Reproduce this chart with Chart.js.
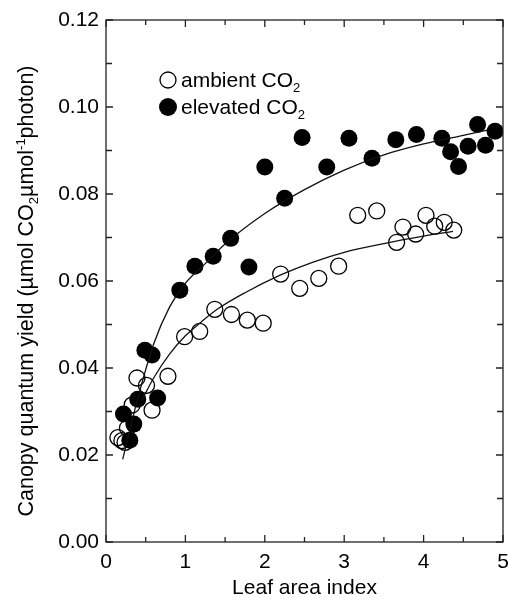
<!DOCTYPE html>
<html>
<head>
<meta charset="utf-8">
<script src="https://cdn.jsdelivr.net/npm/chart.js@4"></script>
<style>
  html, body { margin: 0; padding: 0; background: #fff; }
  #wrap { width: 508px; height: 601px; }
</style>
</head>
<body>
<div id="wrap"><canvas id="chartCanvas" width="508" height="601"></canvas></div>
<script>
// Leaf area index (x) and canopy quantum yield (y)
const ambientLai = [0.15, 0.20, 0.24, 0.27, 0.33, 0.39, 0.51, 0.58, 0.78, 0.99, 1.18, 1.37, 1.58, 1.78, 1.98,
                    2.20, 2.44, 2.68, 2.93, 3.17, 3.41, 3.66, 3.74, 3.90, 4.03, 4.14, 4.26, 4.38];
const ambientYield = [0.0240, 0.0233, 0.0229, 0.0262, 0.0315, 0.0377, 0.0360, 0.0303, 0.0381, 0.0472, 0.0484, 0.0535, 0.0523, 0.0510, 0.0503,
                      0.0616, 0.0583, 0.0606, 0.0634, 0.0751, 0.0761, 0.0689, 0.0724, 0.0708, 0.0751, 0.0726, 0.0735, 0.0717];

const elevatedLai = [0.22, 0.35, 0.30, 0.40, 0.65, 0.49, 0.58, 0.93, 1.12, 1.35, 1.57, 1.80, 2.00, 2.25,
                     2.47, 2.78, 3.06, 3.35, 3.65, 3.91, 4.23, 4.34, 4.44, 4.56, 4.68, 4.78, 4.90];
const elevatedYield = [0.0294, 0.0271, 0.0234, 0.0328, 0.0331, 0.0441, 0.0430, 0.0579, 0.0634, 0.0657, 0.0698, 0.0632, 0.0862, 0.0790,
                       0.0930, 0.0862, 0.0928, 0.0882, 0.0925, 0.0937, 0.0928, 0.0897, 0.0863, 0.0910, 0.0960, 0.0912, 0.0944];

// fitted curves, traced by eye
const ambientFitLai = [0.45, 0.6, 0.8, 1.0, 1.2, 1.4, 1.75, 2.2, 2.6, 3.0, 3.5, 4.0, 4.37];
const ambientFitYield = [0.0325, 0.0377, 0.0432, 0.0474, 0.0506, 0.0535, 0.0573, 0.0614, 0.0643, 0.0666, 0.0686, 0.0703, 0.0714];
const elevatedFitLai = [0.21, 0.4, 0.6, 0.8, 1.0, 1.25, 1.5, 2.0, 2.5, 3.0, 3.5, 4.0, 4.5, 4.8];
const elevatedFitYield = [0.019, 0.033, 0.0455, 0.054, 0.0595, 0.064, 0.0685, 0.0755, 0.081, 0.0855, 0.089, 0.0915, 0.0935, 0.0947];

// axis ticks
const xMajorTicks = [0, 1, 2, 3, 4, 5];
const xMinorTicks = [0.5, 1.5, 2.5, 3.5, 4.5];
const yMajorTicks = [0, 0.02, 0.04, 0.06, 0.08, 0.10, 0.12];
const yMinorTicks = [0.01, 0.03, 0.05, 0.07, 0.09, 0.11];

const FONT = '"Liberation Sans", Arial, Helvetica, sans-serif';

function toPoints(xs, ys) {
    return xs.map((x, i) => ({ x: x, y: ys[i] }));
}

// text with sub/superscript pieces, starting at x on baseline y
function richWidth(ctx, segs, size) {
    let w = 0;
    segs.forEach(s => {
        ctx.font = (s.sub || s.sup ? Math.round(size * 0.62) : size) + 'px ' + FONT;
        w += ctx.measureText(s.t).width;
    });
    return w;
}

function drawRich(ctx, segs, x, y, size) {
    segs.forEach(s => {
        let fs = size, dy = 0;
        if (s.sub) { fs = Math.round(size * 0.62); dy = size * 0.25; }
        if (s.sup) { fs = Math.round(size * 0.62); dy = -size * 0.38; }
        ctx.font = fs + 'px ' + FONT;
        ctx.fillText(s.t, x, y + dy);
        x += ctx.measureText(s.t).width;
    });
}

const framePlugin = {
    id: 'frame',
    afterDatasetsDraw(chart) {
        const ctx = chart.ctx;
        const xs = chart.scales.x, ys = chart.scales.y;
        const a = chart.chartArea;
        ctx.save();
        ctx.strokeStyle = '#222';
        ctx.lineWidth = 1.3;
        ctx.strokeRect(a.left, a.top, a.right - a.left, a.bottom - a.top);

        // inward ticks on all four sides
        ctx.beginPath();
        const xt = (v, len) => {
            const p = xs.getPixelForValue(v);
            ctx.moveTo(p, a.bottom); ctx.lineTo(p, a.bottom - len);
            ctx.moveTo(p, a.top); ctx.lineTo(p, a.top + len);
        };
        const yt = (v, len) => {
            const p = ys.getPixelForValue(v);
            ctx.moveTo(a.left, p); ctx.lineTo(a.left + len, p);
            ctx.moveTo(a.right, p); ctx.lineTo(a.right - len, p);
        };
        xMajorTicks.forEach(v => xt(v, 7));
        xMinorTicks.forEach(v => xt(v, 5));
        yMajorTicks.forEach(v => yt(v, 7));
        yMinorTicks.forEach(v => yt(v, 6));
        ctx.stroke();

        // legend
        ctx.fillStyle = '#000';
        ctx.textBaseline = 'alphabetic';
        ctx.lineWidth = 1.3;
        ctx.beginPath();
        ctx.arc(168, 80, 8, 0, Math.PI * 2);
        ctx.strokeStyle = '#000';
        ctx.stroke();
        ctx.beginPath();
        ctx.arc(168, 107, 9, 0, Math.PI * 2);
        ctx.fill();
        drawRich(ctx, [{ t: 'ambient CO' }, { t: '2', sub: true }], 181, 87, 21);
        drawRich(ctx, [{ t: 'elevated CO' }, { t: '2', sub: true }], 181, 114, 21);

        // y axis title
        const title = [{ t: 'Canopy quantum yield (\u00b5mol CO' }, { t: '2', sub: true },
                       { t: '\u00b5mol' }, { t: '-1', sup: true }, { t: 'photon)' }];
        const w = richWidth(ctx, title, 21.5);
        ctx.translate(33, 291);
        ctx.rotate(-Math.PI / 2);
        drawRich(ctx, title, -w / 2, 0, 21.5);
        ctx.restore();
    }
};

const chartContext = document.getElementById('chartCanvas').getContext('2d');
const yieldChart = new Chart(chartContext, {
    type: 'scatter',
    data: {
        datasets: [
            {
                label: 'ambient fit',
                data: toPoints(ambientFitLai, ambientFitYield),
                showLine: true,
                borderColor: '#111',
                borderWidth: 1.3,
                pointRadius: 0,
                cubicInterpolationMode: 'monotone'
            },
            {
                label: 'elevated fit',
                data: toPoints(elevatedFitLai, elevatedFitYield),
                showLine: true,
                borderColor: '#111',
                borderWidth: 1.3,
                pointRadius: 0,
                cubicInterpolationMode: 'monotone'
            },
            {
                label: 'ambient CO2',
                data: toPoints(ambientLai, ambientYield),
                pointRadius: 8,
                pointBorderWidth: 1.3,
                pointBackgroundColor: 'rgba(0,0,0,0)',
                pointBorderColor: '#000'
            },
            {
                label: 'elevated CO2',
                data: toPoints(elevatedLai, elevatedYield),
                pointRadius: 8.5,
                pointBorderWidth: 0,
                pointBackgroundColor: '#000',
                pointBorderColor: '#000'
            }
        ]
    },
    options: {
        responsive: false,
        animation: false,
        events: [],
        layout: { autoPadding: false, padding: { top: 20, right: 5, left: 0, bottom: 0 } },
        plugins: {
            legend: { display: false },
            tooltip: { enabled: false }
        },
        scales: {
            x: {
                type: 'linear',
                min: 0,
                max: 5,
                afterFit: (scale) => {
                    scale.height = 59;
                    scale.paddingLeft = 0;
                    scale.paddingRight = 0;
                },
                grid: { display: false, drawTicks: false },
                border: { display: false },
                ticks: {
                    stepSize: 1,
                    padding: 8,
                    color: '#000',
                    font: { family: FONT, size: 21 },
                    callback: (v) => String(v)
                },
                title: {
                    display: true,
                    text: 'Leaf area index',
                    color: '#000',
                    font: { family: FONT, size: 21 },
                    padding: { top: 0, bottom: 0 }
                }
            },
            y: {
                type: 'linear',
                min: 0,
                max: 0.12,
                afterFit: (scale) => {
                    scale.width = 106;
                    scale.paddingTop = 0;
                    scale.paddingBottom = 0;
                },
                grid: { display: false, drawTicks: false },
                border: { display: false },
                ticks: {
                    stepSize: 0.02,
                    padding: 7,
                    color: '#000',
                    font: { family: FONT, size: 21 },
                    callback: (v) => v.toFixed(2)
                }
            }
        }
    },
    plugins: [framePlugin]
});
</script>
</body>
</html>
